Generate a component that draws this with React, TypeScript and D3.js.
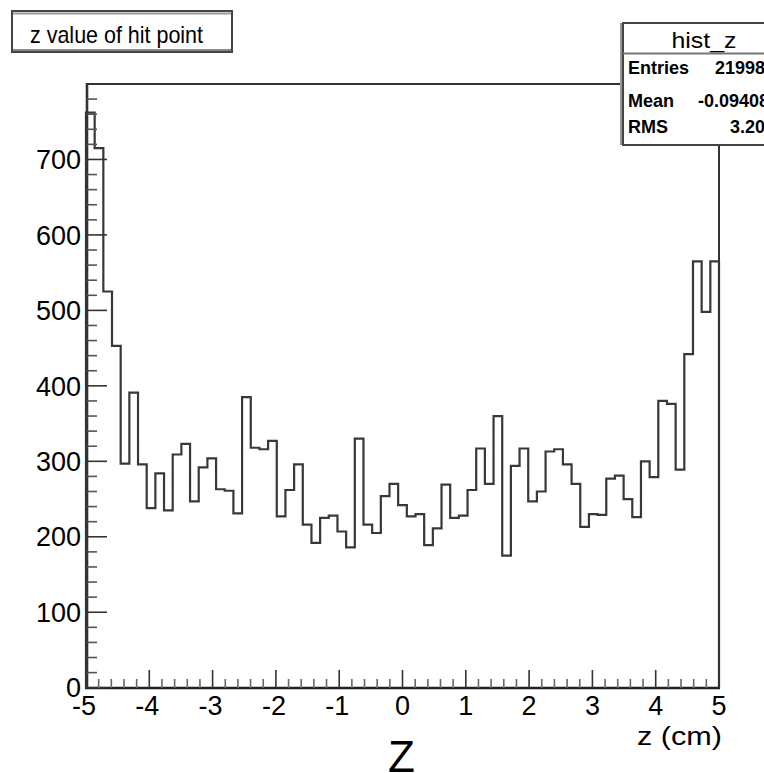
import React from "react";
import * as d3 from "d3";

const counts = [762, 715, 525, 453, 297, 391, 296, 238, 284, 235, 309, 323, 247, 292, 304, 263, 261, 231, 385, 318, 316, 327, 227, 262, 296, 216, 192, 225, 228, 207, 186, 330, 216, 205, 254, 270, 242, 227, 230, 189, 211, 269, 225, 228, 262, 317, 270, 360, 175, 294, 317, 247, 260, 313, 316, 296, 270, 213, 230, 229, 277, 281, 250, 226, 300, 279, 380, 376, 289, 442, 565, 498, 565];
const xDomain = [-5, 5];
const yDomain = [0, 800];
const xMajorTicks = [-5, -4, -3, -2, -1, 0, 1, 2, 3, 4, 5];
const yMajorTicks = [0, 100, 200, 300, 400, 500, 600, 700];
const statLabels = ["Entries", "Mean", "RMS"];
const statValues = ["21998", "-0.09408", "3.203"];
const titleText = "z value of hit point";
const statTitle = "hist_z";
const xTitle = "z (cm)";
const bigLabel = "Z";

const FONT = "'Liberation Sans', Arial, Helvetica, sans-serif";

export default function App() {
  const x = d3.scaleLinear().domain(xDomain).range([86, 719]);
  const y = d3.scaleLinear().domain(yDomain).range([687.7, 84]);
  const N = counts.length;
  const edges = d3.range(N + 1).map((i) => xDomain[0] + ((xDomain[1] - xDomain[0]) * i) / N);

  let d = `M${x(edges[0])},${y(0)}`;
  counts.forEach((c, i) => {
    d += `V${y(c)}H${x(edges[i + 1])}`;
  });
  d += `V${y(0)}`;

  const xMinor = d3.range(-5, 5.0001, 0.2).filter((v) => Math.abs(v - Math.round(v)) > 1e-6);
  const yMinor = d3.range(0, 800.001, 20).filter((v) => v % 100 !== 0);

  const statStartX = [715, 698, 730];
  const statBase = [73.5, 107, 133];

  return (
    <svg
      width={764}
      height={773}
      style={{ position: "absolute", left: 0, top: 0, background: "#fff" }}
      fontFamily={FONT}
    >
      <rect x={0} y={0} width={764} height={773} fill="#fff" />
      {/* histogram */}
      <path d={d} fill="none" stroke="#383838" strokeWidth={2.2} />

      {/* frame */}
      <line x1={86} y1={84} x2={719} y2={84} stroke="#333" strokeWidth={2} />
      <line x1={719} y1={84} x2={719} y2={688} stroke="#333" strokeWidth={2} />
      <line x1={87} y1={83} x2={87} y2={689} stroke="#333" strokeWidth={2.6} />
      <line x1={85} y1={688} x2={720} y2={688} stroke="#222" strokeWidth={2.6} />

      {/* y ticks */}
      {yMajorTicks.map((v) => (
        <line key={"ym" + v} x1={87} x2={107} y1={y(v)} y2={y(v)} stroke="#333" strokeWidth={1.6} />
      ))}
      {yMinor.map((v) => (
        <line key={"yn" + v} x1={87} x2={97} y1={y(v)} y2={y(v)} stroke="#555" strokeWidth={1.6} />
      ))}
      {/* x ticks */}
      {xMajorTicks.map((v) => (
        <line key={"xm" + v} x1={x(v)} x2={x(v)} y1={688} y2={670} stroke="#333" strokeWidth={1.6} />
      ))}
      {xMinor.map((v) => (
        <line key={"xn" + v.toFixed(1)} x1={x(v)} x2={x(v)} y1={688} y2={679} stroke="#666" strokeWidth={1.6} />
      ))}

      {/* y labels */}
      {yMajorTicks.map((v) => (
        <text key={"yl" + v} x={81} y={y(v) + 9.7} fontSize={27} textAnchor="end" fill="#000">
          {v}
        </text>
      ))}
      {/* x labels */}
      {xMajorTicks.map((v) => (
        <text key={"xl" + v} x={x(v) + (v < 0 ? -2 : 0)} y={715} fontSize={27} textAnchor="middle" fill="#000">
          {v}
        </text>
      ))}

      {/* axis title */}
      <text x={637} y={745} fontSize={26} textLength={85} lengthAdjust="spacingAndGlyphs" fill="#000">
        {xTitle}
      </text>
      <text x={401.5} y={772} fontSize={44} textAnchor="middle" fill="#000">
        {bigLabel}
      </text>

      {/* title box */}
      <rect x={12} y={11} width={220} height={41} fill="#fff" stroke="#444" strokeWidth={2} />
      <line x1={13} x2={231} y1={13.5} y2={13.5} stroke="#999" strokeWidth={2} />
      <line x1={13} x2={231} y1={50} y2={50} stroke="#888" strokeWidth={2} />
      <text x={30} y={43} fontSize={24} textLength={173} lengthAdjust="spacingAndGlyphs" fill="#000">
        {titleText}
      </text>

      {/* stats box */}
      <rect x={623} y={23} width={150} height={122} fill="#fff" stroke="#444" strokeWidth={2} />
      <line x1={621} x2={621} y1={23} y2={145} stroke="#999" strokeWidth={2} />
      <line x1={623} x2={770} y1={53.5} y2={53.5} stroke="#777" strokeWidth={2} />
      <text x={704} y={48} fontSize={22} textAnchor="middle" textLength={65} lengthAdjust="spacingAndGlyphs" fill="#000">
        {statTitle}
      </text>
      {statLabels.map((l, i) => (
        <text key={l} x={628} y={statBase[i]} fontSize={18} fontWeight="bold" fill="#000">
          {l}
        </text>
      ))}
      {statValues.map((v, i) => (
        <text key={"sv" + i} x={statStartX[i]} y={statBase[i]} fontSize={18} fontWeight="bold" fill="#000">
          {v}
        </text>
      ))}
    </svg>
  );
}
